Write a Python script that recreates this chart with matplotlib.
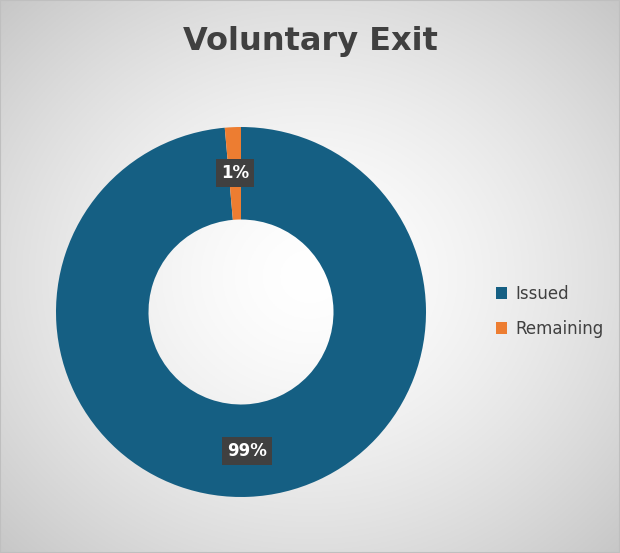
import numpy as np
import matplotlib.pyplot as plt

labels = ["Issued", "Remaining"]
values = [98.6, 1.4]
colors = ["#155f83", "#ed7d31"]
title = "Voluntary Exit"

fig = plt.figure(figsize=(6.2, 5.53), dpi=100)
bg = fig.add_axes([0, 0, 1, 1])
yy, xx = np.mgrid[-1:1:300j, -1:1:300j]
r = np.sqrt(xx**2 + yy**2) / np.sqrt(2)
g = 1.0 - 0.22 * r**1.5
bg.imshow(np.dstack([g, g, g]), extent=[0, 1, 0, 1], aspect="auto")
bg.set_axis_off()
bg.add_patch(plt.Rectangle((0, 0), 1, 1, fill=False, ec="#bfbfbf", lw=1.5, transform=bg.transAxes))

fig.text(0.5, 0.925, title, ha="center", va="center", fontsize=23, fontweight="bold", color="#404040")

ax = fig.add_axes([56/620, 56/553, 370/620, 370/553])
wedges, texts, autotexts = ax.pie(values, colors=colors, startangle=90, counterclock=False,
       wedgeprops=dict(width=0.5, edgecolor="none"), autopct=lambda p: f"{p:.0f}%",
       pctdistance=0.75, textprops=dict(color="white", fontweight="bold", fontsize=12))
for t in autotexts:
    t.set_bbox(dict(boxstyle="square,pad=0.3", fc="#404040", ec="none"))
ax.set_xlim(-1, 1)
ax.set_ylim(-1, 1)
ax.set_aspect("equal")

fig.legend(wedges, labels, loc="center left", bbox_to_anchor=(0.775, 0.437), frameon=False,
           fontsize=12, labelcolor="#404040", handlelength=0.7, handleheight=0.7,
           labelspacing=1.0, handletextpad=0.5)
fig.savefig("out.png")
